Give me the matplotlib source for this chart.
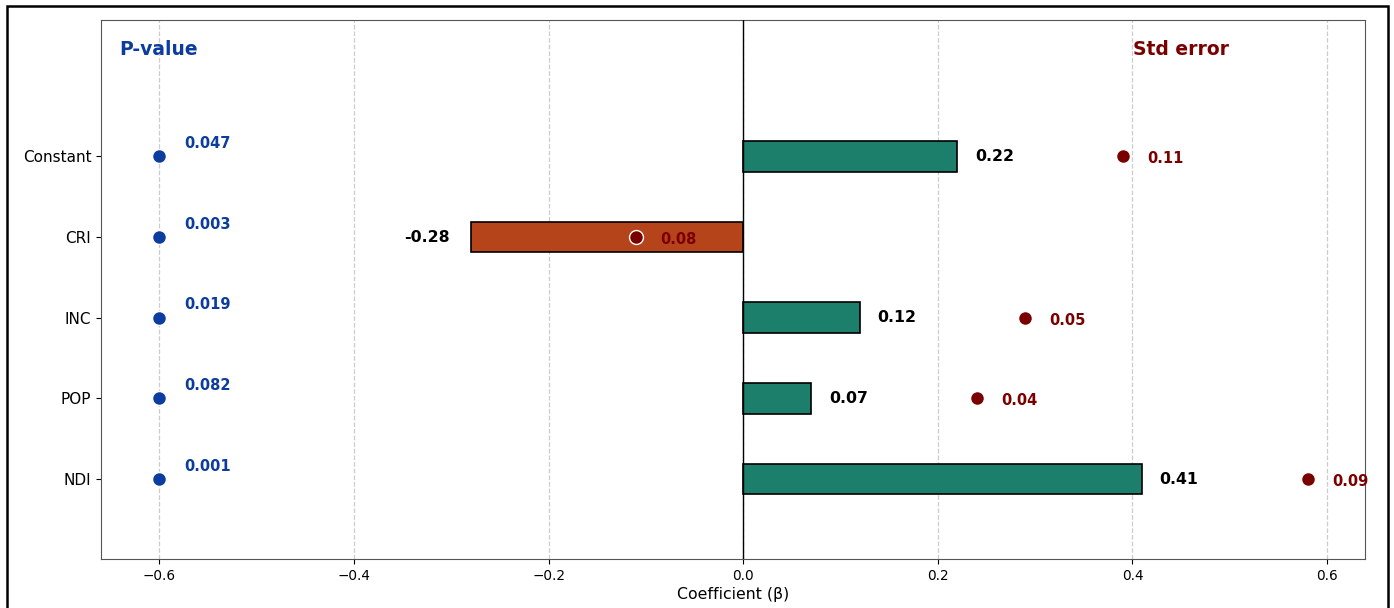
import matplotlib
matplotlib.use("Agg")
import matplotlib.pyplot as plt
from matplotlib.patches import Rectangle

variables = ["Constant", "CRI", "INC", "POP", "NDI"]
coefficients = [0.22, -0.28, 0.12, 0.07, 0.41]
std_errors = [0.11, 0.08, 0.05, 0.04, 0.09]
p_values = [0.047, 0.003, 0.019, 0.082, 0.001]
xticks = [-0.6, -0.4, -0.2, 0.0, 0.2, 0.4, 0.6]

pos_color = "#1b7f6b"
neg_color = "#b5441a"
p_color = "#0b3c9e"
se_color = "#7a0000"

fig = plt.figure(figsize=(13.94, 6.08), dpi=100)
ax = fig.add_axes([0.0725, 0.0806, 0.9067, 0.8864])

ypos = list(range(len(variables)))
colors = [pos_color if c >= 0 else neg_color for c in coefficients]
ax.barh(ypos, coefficients, height=0.38, color=colors, edgecolor="black",
        linewidth=1.2, zorder=2)
ax.axvline(0, color="black", linewidth=1.0, zorder=3)

p_x = -0.6
se_offset = 0.17
for y, c, se, p in zip(ypos, coefficients, std_errors, p_values):
    if c >= 0:
        ax.text(c + 0.018, y, f"{c:.2f}", ha="left", va="center",
                fontsize=11.3, fontweight="bold", color="black", zorder=5)
    else:
        ax.text(c - 0.022, y, f"{c:.2f}", ha="right", va="center",
                fontsize=11.3, fontweight="bold", color="black", zorder=5)
    ax.scatter([c + se_offset], [y], s=100, color=se_color, edgecolor="white",
               linewidth=1.0, zorder=4)
    ax.text(c + se_offset + 0.025, y + 0.03, f"{se:.2f}", ha="left", va="center",
            fontsize=10.5, fontweight="bold", color=se_color, zorder=5)
    ax.scatter([p_x], [y], s=100, color=p_color, edgecolor="white",
               linewidth=1.0, zorder=1)
    ax.text(p_x + 0.025, y - 0.16, f"{p:.3f}", ha="left", va="center",
            fontsize=10.5, fontweight="bold", color=p_color, zorder=5)

ax.text(-0.641, -1.33, "P-value", ha="left", va="center", fontsize=13.5,
        fontweight="bold", color=p_color)
ax.text(0.401, -1.33, "Std error", ha="left", va="center", fontsize=13.5,
        fontweight="bold", color=se_color)

ax.set_yticks(ypos)
ax.set_yticklabels(variables, fontsize=11)
ax.set_xticks(xticks)
ax.tick_params(axis="x", labelsize=9.8)
ax.set_xlim(-0.66, 0.639)
ax.set_ylim(4.99, -1.69)
ax.set_xlabel("Coefficient (β)", fontsize=11.3, labelpad=3)
ax.grid(axis="x", linestyle="--", color="#cccccc", linewidth=0.9, zorder=0)
ax.set_axisbelow(True)
for s in ax.spines.values():
    s.set_color("#555555")

fig.patches.append(Rectangle((0.005, -0.02), 0.9907, 1.0102,
                             transform=fig.transFigure, fill=False,
                             edgecolor="black", linewidth=1.8))

fig.savefig("out.png", dpi=100)
